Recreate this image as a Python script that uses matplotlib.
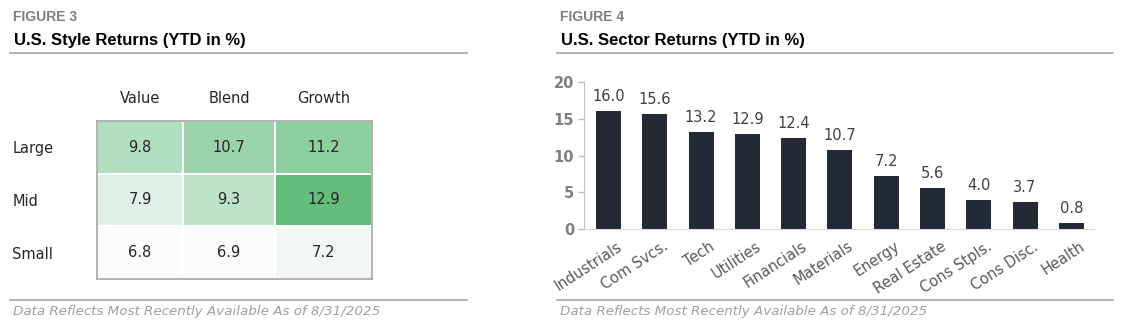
import matplotlib.pyplot as plt
import matplotlib.transforms as mtransforms
from matplotlib.colors import LinearSegmentedColormap
from matplotlib.lines import Line2D
import numpy as np

plt.rcParams['font.family'] = ['DejaVu Sans']

# Figure 3 data
styles = ['Value', 'Blend', 'Growth']
sizes = ['Large', 'Mid', 'Small']
style_returns = [[9.8, 10.7, 11.2],
                 [7.9, 9.3, 12.9],
                 [6.8, 6.9, 7.2]]

# Figure 4 data
sectors = ['Industrials', 'Com Svcs.', 'Tech', 'Utilities', 'Financials', 'Materials',
           'Energy', 'Real Estate', 'Cons Stpls.', 'Cons Disc.', 'Health']
sector_returns = [16.0, 15.6, 13.2, 12.9, 12.4, 10.7, 7.2, 5.6, 4.0, 3.7, 0.8]

W, H = 1121, 329
fig = plt.figure(figsize=(W / 100, H / 100), dpi=100)


def px_axes(x0, y0, x1, y1):
    # pixel box (top-left origin) -> figure axes
    return fig.add_axes([x0 / W, 1 - y1 / H, (x1 - x0) / W, (y1 - y0) / H])


def hline(x0, x1, y):
    fig.add_artist(Line2D([x0 / W, x1 / W], [1 - y / H, 1 - y / H],
                          color='#a6a6a6', lw=1.2))


gray = '#7f7f7f'

# ---- headers / footers ----
for x0, x1, num, title in [(10, 467, '3', 'U.S. Style Returns (YTD in %)'),
                           (557, 1113, '4', 'U.S. Sector Returns (YTD in %)')]:
    fig.text((x0 + 3) / W, 1 - 17 / H, 'FIGURE ' + num, color=gray, fontsize=10,
             fontweight='bold', va='center', family='Liberation Sans')
    fig.text((x0 + 4) / W, 1 - 41 / H, title, color='black', fontsize=12,
             fontweight='bold', va='center', family='Liberation Sans')
    hline(x0, x1, 53)
    hline(x0, x1, 300)
    fig.text((x0 + 3) / W, 1 - 311 / H, 'Data Reflects Most Recently Available As of 8/31/2025',
             color='#a0a0a0', fontsize=9.7, style='italic', va='center')

# ---- Figure 3: heatmap ----
ax1 = px_axes(97, 121, 372, 279)
cmap = LinearSegmentedColormap.from_list('wg', ['#fcfcff', '#63be7b'])
vals = np.array(style_returns)
xedges = np.array([0, 86, 178, 275])
ax1.pcolormesh(xedges, np.arange(len(sizes) + 1), vals, cmap=cmap,
               vmin=vals.min(), vmax=vals.max(), edgecolors='white', linewidth=1.2)
ax1.set_xlim(0, 275)
ax1.set_ylim(len(sizes), 0)
xc = (xedges[:-1] + xedges[1:]) / 2
for i in range(len(sizes)):
    for j in range(len(styles)):
        ax1.text(xc[j], i + 0.5, f'{vals[i, j]:.1f}', ha='center', va='center',
                 fontsize=10.5, color='#262626')
ax1.xaxis.tick_top()
ax1.set_xticks(xc)
ax1.set_xticklabels(styles, fontsize=10.5, color='#262626')
ax1.set_yticks(np.arange(len(sizes)) + 0.5)
ax1.set_yticklabels(sizes, fontsize=10.5, color='#262626', ha='left')
ax1.tick_params(axis='x', length=0, pad=11)
ax1.tick_params(axis='y', length=0, pad=61)
for s in ax1.spines.values():
    s.set_color('#a6a6a6')
    s.set_linewidth(1.2)

# ---- Figure 4: bar chart ----
ax2 = px_axes(584, 82, 1094, 229)
x = np.arange(len(sectors))
bars = ax2.bar(x, sector_returns, width=0.54, color='#232a35')
ax2.bar_label(bars, labels=[f'{v:.1f}' for v in sector_returns], padding=5,
              fontsize=10.5, color='#404040')
ax2.set_ylim(0, 20)
ax2.set_xlim(-0.53, len(sectors) - 0.51)
ax2.set_yticks([0, 5, 10, 15, 20])
ax2.tick_params(axis='y', labelsize=10.5, labelcolor=gray, color='#bfbfbf',
                length=4, width=1, pad=3)
for lab in ax2.get_yticklabels():
    lab.set_fontweight('bold')
ax2.set_xticks(x)
ax2.set_xticklabels(sectors, rotation=33, ha='right', va='top', rotation_mode='anchor',
                    fontsize=10.5, color='#595959')
ax2.tick_params(axis='x', length=0, pad=7)
offset = mtransforms.ScaledTranslation(8 / 100, 0, fig.dpi_scale_trans)
for lab in ax2.get_xticklabels():
    lab.set_transform(lab.get_transform() + offset)
for side in ['top', 'right']:
    ax2.spines[side].set_visible(False)
ax2.spines['left'].set_color('#bfbfbf')
ax2.spines['bottom'].set_color('#d9d9d9')

fig.savefig('out.png', dpi=100)
